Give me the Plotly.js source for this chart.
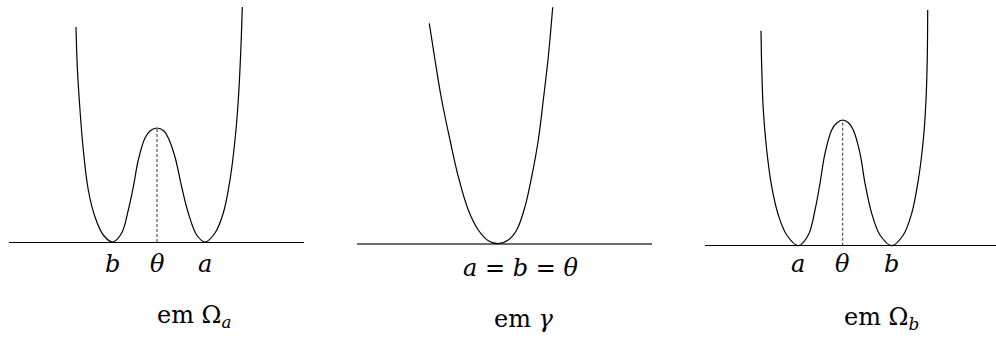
<!DOCTYPE html>
<html>
<head>
<meta charset="utf-8">
<script src="https://cdn.plot.ly/plotly-3.0.1.min.js"></script>
<style>
  html, body { margin: 0; padding: 0; background: #fff; }
  #plot { width: 996px; height: 338px; }
</style>
</head>
<body>
<div id="plot"></div>
<script>
// Potential profiles: x measured from the barrier top (or the single well), y is height above the baseline.
const omegaA_x = [-81, -79.7, -77, -73.7, -68.7, -62, -53.7, -44.3, -35.3, -28.7, -23.7, -18.7, -12, -6.7, 0, 6.7, 11.3, 18, 24.7, 31.3, 39.7, 48, 58, 66.3, 73, 78, 81.3, 83.7, 85.3];
const omegaA_y = [215, 175, 132, 92, 52, 25, 7, 0, 9, 32, 55, 82, 104, 111.3, 114, 111.3, 104, 85, 55, 29, 7, 0, 9, 29, 62, 102, 142, 189, 235];

const gamma_x = [-69, -63.3, -56.6, -48.3, -40, -30, -20, -10, 0, 10, 18.4, 26.7, 33.4, 40, 45, 50, 54.4];
const gamma_y = [220.4, 183.7, 143.7, 103.7, 67, 33.7, 13.7, 3, 0, 3.7, 13.7, 37, 67, 103.7, 143.7, 187, 236.4];

const omegaB_x = [-81.7, -81, -79.4, -76, -71, -64.4, -56, -44.4, -34.4, -27.7, -22.7, -17.7, -11, -6, 0, 6, 10.6, 17.3, 22.3, 29, 37.3, 49, 60.6, 69, 75.6, 80.6, 83.3, 84.6, 85];
const omegaB_y = [215, 179, 135.7, 95.7, 59, 30.7, 10.7, 0, 10.7, 35.7, 62.4, 92.4, 115.7, 122.7, 125.7, 122.7, 115.7, 92.4, 62.4, 32.4, 10.7, 0, 10.7, 32.4, 65.7, 105.7, 145.7, 189, 235.7];

// Critical points and their labels
const omegaA_marks = [-44.3, 0, 48];
const omegaA_labels = ['<i>b</i>', '<i>θ</i>', '<i>a</i>'];
const omegaA_peak = 114;

const gamma_marks = [21.7];
const gamma_labels = ['<i>a</i> = <i>b</i> = <i>θ</i>'];

const omegaB_marks = [-44.4, 0, 49];
const omegaB_labels = ['<i>a</i>', '<i>θ</i>', '<i>b</i>'];
const omegaB_peak = 125.7;

const captions = ['em Ω<sub><i>a</i></sub>', 'em <i>γ</i>', 'em Ω<sub><i>b</i></sub>'];

const W = 996, H = 338;
const serif = 'DejaVu Serif';

// Panel frames in pixels: left/right edges, x of origin, y of baseline
const panels = [
  {x0: 9, x1: 304, ox: 157, base: 242, line: '#000', lw: 1},
  {x0: 357, x1: 652, ox: 498.3, base: 243.7, line: '#6e6e6e', lw: 1.6},
  {x0: 705, x1: 996, ox: 842.7, base: 245.7, line: '#000', lw: 1}
];

const axisId = i => (i ? String(i + 1) : '');

const curve = (x, y, i) => ({
  x: x, y: y, xaxis: 'x' + axisId(i), yaxis: 'y' + axisId(i),
  mode: 'lines', line: {color: '#000', width: 1.2, shape: 'spline', smoothing: 1},
  hoverinfo: 'skip', showlegend: false
});
const dashed = (h, i) => ({
  x: [0, 0], y: [0, h], xaxis: 'x' + axisId(i), yaxis: 'y' + axisId(i),
  mode: 'lines', line: {color: '#333', width: 1, dash: '3px,2px'},
  hoverinfo: 'skip', showlegend: false
});

const data = [
  dashed(omegaA_peak, 0), curve(omegaA_x, omegaA_y, 0),
  curve(gamma_x, gamma_y, 1),
  dashed(omegaB_peak, 2), curve(omegaB_x, omegaB_y, 2)
];

const layout = {
  width: W, height: H,
  margin: {l: 0, r: 0, t: 0, b: 0},
  paper_bgcolor: '#fff', plot_bgcolor: 'rgba(0,0,0,0)',
  font: {family: serif, size: 24, color: '#000'},
  showlegend: false,
  annotations: []
};

panels.forEach((p, i) => {
  layout['xaxis' + axisId(i)] = {
    domain: [p.x0 / W, p.x1 / W], range: [p.x0 - p.ox, p.x1 - p.ox],
    showgrid: false, zeroline: false, showticklabels: false, ticks: '', showline: false,
    anchor: 'y' + axisId(i), fixedrange: true
  };
  layout['yaxis' + axisId(i)] = {
    domain: [0, 1], range: [-(H - p.base), p.base],
    showgrid: false, zeroline: true, zerolinecolor: p.line, zerolinewidth: p.lw,
    showticklabels: false, ticks: '', showline: false,
    anchor: 'x' + axisId(i), fixedrange: true
  };
});

const addLabels = (marks, labels, i, ypx) => {
  marks.forEach((m, k) => {
    layout.annotations.push({
      xref: 'x' + axisId(i), yref: 'paper',
      x: m, y: 1 - ypx / H, xanchor: 'center', yanchor: 'middle',
      text: labels[k], showarrow: false,
      font: {family: serif, size: 24, color: '#000'}
    });
  });
};
addLabels(omegaA_marks, omegaA_labels, 0, 264);
addLabels(gamma_marks, gamma_labels, 1, 268);
addLabels(omegaB_marks, omegaB_labels, 2, 264);

// Captions under each panel
const capX = [194.5, 524, 881];
const capY = [316, 319, 318];
captions.forEach((c, i) => {
  layout.annotations.push({
    xref: 'paper', yref: 'paper', x: capX[i] / W, y: 1 - capY[i] / H,
    xanchor: 'center', yanchor: 'middle', text: c, showarrow: false,
    font: {family: serif, size: 24, color: '#000'}
  });
});

Plotly.newPlot('plot', data, layout, {staticPlot: true, displayModeBar: false});
</script>
</body>
</html>
